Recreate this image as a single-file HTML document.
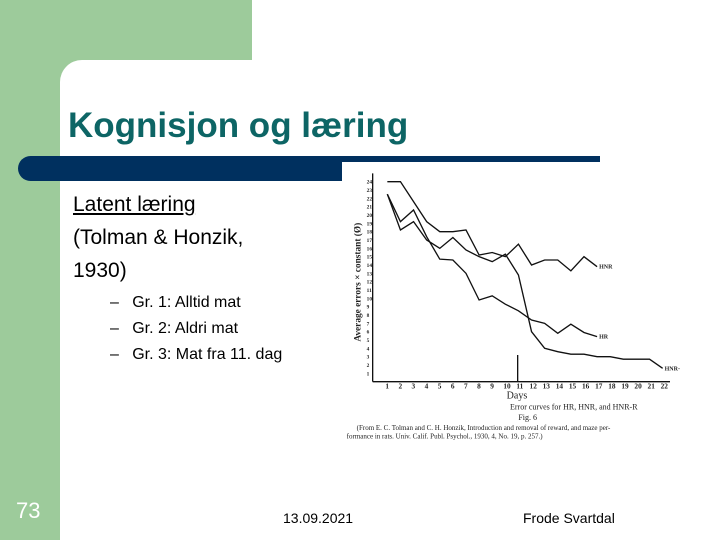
<!DOCTYPE html>
<html><head><meta charset="utf-8"><style>
body{margin:0;width:720px;height:540px;position:relative;overflow:hidden;background:#fff;font-family:"Liberation Sans",sans-serif}
.a{position:absolute}
</style></head><body>
<div class="a" style="left:0;top:0;width:252px;height:60px;background:#9dcb9b"></div>
<div class="a" style="left:0;top:0;width:60px;height:540px;background:#9dcb9b"></div>
<div class="a" style="left:60px;top:60px;width:30px;height:30px;background:#9dcb9b"></div>
<div class="a" style="left:60px;top:60px;width:60px;height:60px;background:#fff;border-top-left-radius:22px"></div>
<div class="a" style="left:68px;top:106px;font-size:35px;font-weight:bold;color:#0d6565;white-space:nowrap">Kognisjon og læring</div>
<div class="a" style="left:18px;top:156px;width:324px;height:25px;background:#00305f;border-radius:13px 0 0 13px"></div>
<div class="a" style="left:300px;top:156px;width:300px;height:6px;background:#00305f"></div>
<div class="a" style="left:73px;top:188px;font-size:21px;line-height:33px;color:#000"><span style="text-decoration:underline">Latent læring</span><br>(Tolman &amp; Honzik,<br>1930)</div>
<div class="a" style="left:110px;top:290px;font-size:16px;line-height:26px;color:#000">
<div>–&nbsp;&nbsp;&nbsp;Gr. 1: Alltid mat</div>
<div>–&nbsp;&nbsp;&nbsp;Gr. 2: Aldri mat</div>
<div>–&nbsp;&nbsp;&nbsp;Gr. 3: Mat fra 11. dag</div></div>
<div class="a" style="left:16px;top:498px;font-size:22px;color:#fff">73</div>
<div class="a" style="left:283px;top:510px;font-size:14px">13.09.2021</div>
<div class="a" style="left:523px;top:510px;font-size:14px">Frode Svartdal</div>
<svg class="a" style="left:340px;top:160px" width="340" height="290" viewBox="0 0 1020 870">
<g id="g" fill="none" stroke="#111" stroke-width="4"></g>
<g font-family="Liberation Serif" fill="#222">
<text transform="translate(62,545) rotate(-90)" font-size="28" font-weight="bold">Average errors × constant (Ø)</text>
<text x="500" y="715" font-size="30">Days</text>
<text x="510" y="748" font-size="24">Error curves for HR, HNR, and HNR-R</text>
<text x="535" y="780" font-size="24">Fig. 6</text>
<text x="50" y="810" font-size="21">(From E. C. Tolman and C. H. Honzik, Introduction and removal of reward, and maze per-</text>
<text x="20" y="835" font-size="21">formance in rats. Univ. Calif. Publ. Psychol., 1930, 4, No. 19, p. 257.)</text>
</g>
</svg>
<script>
const days=[1,2,3,4,5,6,7,8,9,10,11,12,13,14,15,16,17,18,19,20,21,22];
const hnr=[24,24,21.6,19.2,18,18,18.2,15.2,15.5,15,16.5,14,14.6,14.6,13.3,15,13.8];
const hr=[22.5,19.2,20.6,17.4,14.7,14.6,13,9.8,10.3,9.3,8.5,7.4,7,5.8,6.9,5.9,5.4];
const hnrr=[22.5,18.2,19.2,17,16,17.3,15.8,15,14.4,15.3,12.8,6,4,3.6,3.3,3.3,3,3,2.7,2.7,2.7,1.6];
const labels={HNR:hnr,HR:hr,'HNR-R':hnrr};
const xs=d=>142+(d-1)*39.33, ys=v=>665-v*25;
const g=document.getElementById('g'),NS='http://www.w3.org/2000/svg';
function ln(x1,y1,x2,y2,n){const l=document.createElementNS(NS,'line');l.setAttribute('x1',x1);l.setAttribute('y1',y1);l.setAttribute('x2',x2);l.setAttribute('y2',y2);


g.appendChild(l);}
ln(98,40,98,665,'y-axis');ln(98,665,990,665,'x-axis');ln(533,585,533,665,'day-11-arrow');
const tg=document.createElementNS(NS,'g');tg.setAttribute('font-size','22');tg.setAttribute('font-weight','bold');tg.setAttribute('font-family','Liberation Serif');tg.setAttribute('fill','#222');document.querySelector('svg').appendChild(tg);
days.forEach(d=>{const t=document.createElementNS(NS,'text');t.setAttribute('x',xs(d)-6);t.setAttribute('y',685);t.textContent=d;


tg.appendChild(t);});
for(let v=1;v<=24;v++){const t=document.createElementNS(NS,'text');t.setAttribute('x',80);t.setAttribute('y',ys(v)+6);t.setAttribute('font-size','16');t.textContent=v;


tg.appendChild(t);}
Object.entries(labels).forEach(([k,arr])=>{const p=document.createElementNS(NS,'polyline');p.setAttribute('points',arr.map((v,i)=>xs(days[i])+','+ys(v)).join(' '));


g.appendChild(p);
const t=document.createElementNS(NS,'text');const last=arr.length-1;t.setAttribute('x',xs(days[last])+6);t.setAttribute('y',ys(arr[last])+6);t.setAttribute('font-size','18');t.textContent=k;


tg.appendChild(t);});
</script>
</body></html>
